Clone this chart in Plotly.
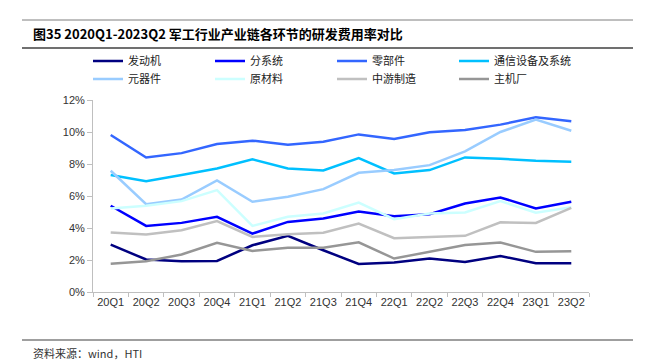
import plotly.graph_objects as go

quarters = ["20Q1","20Q2","20Q3","20Q4","21Q1","21Q2","21Q3","21Q4",
            "22Q1","22Q2","22Q3","22Q4","23Q1","23Q2"]

engine      = [2.96,2.03,1.92,1.94,2.92,3.51,2.61,1.75,1.84,2.09,1.88,2.25,1.80,1.80]   # 发动机
subsystem   = [5.39,4.13,4.32,4.70,3.65,4.38,4.59,5.03,4.74,4.86,5.53,5.91,5.22,5.64]   # 分系统
parts       = [9.81,8.41,8.68,9.25,9.46,9.21,9.39,9.85,9.56,9.98,10.13,10.46,10.92,10.67] # 零部件
comm        = [7.31,6.93,7.31,7.72,8.29,7.72,7.60,8.37,7.41,7.62,8.41,8.33,8.20,8.14]   # 通信设备及系统
components  = [7.58,5.49,5.78,6.97,5.64,5.95,6.43,7.45,7.62,7.93,8.79,10.00,10.77,10.08] # 元器件
materials   = [5.22,5.39,5.68,6.37,4.13,4.70,4.91,5.59,4.55,4.91,4.97,5.68,4.95,5.30]   # 原材料
midstream   = [3.72,3.59,3.86,4.43,3.44,3.61,3.70,4.28,3.36,3.42,3.51,4.36,4.32,5.26]   # 中游制造
oem         = [1.77,1.92,2.34,3.07,2.57,2.76,2.76,3.11,2.09,2.53,2.94,3.09,2.51,2.55]   # 主机厂

series = [
    ("发动机", engine, "#000080", "legend"),
    ("分系统", subsystem, "#0000FF", "legend"),
    ("零部件", parts, "#3366FF", "legend"),
    ("通信设备及系统", comm, "#00C0FF", "legend"),
    ("元器件", components, "#99CCFF", "legend2"),
    ("原材料", materials, "#CCFFFF", "legend2"),
    ("中游制造", midstream, "#C0C0C0", "legend2"),
    ("主机厂", oem, "#969696", "legend2"),
]

fig = go.Figure()
for name, vals, color, lg in series:
    fig.add_trace(go.Scatter(x=quarters, y=vals, name=name, mode="lines",
                             line=dict(color=color, width=2.5), legend=lg))

W, H = 655, 363
L, R, T, B = 93, 589, 100, 292
pw, ph = R - L, B - T
def px(x): return (x - L) / pw
def py(y): return (B - y) / ph

cjk = "Noto Sans CJK SC"
lat = "Liberation Sans"

legend_common = dict(orientation="h", xanchor="left", yanchor="middle",
                     entrywidth=77, entrywidthmode="pixels",
                     font=dict(family=cjk, size=11, color="#222222"),
                     bgcolor="rgba(0,0,0,0)", borderwidth=0, itemwidth=30,
                     tracegroupgap=0)

fig.update_layout(
    width=W, height=H,
    margin=dict(l=L, r=W - R, t=T, b=H - B),
    paper_bgcolor="white", plot_bgcolor="white",
    showlegend=True,
    legend=dict(x=px(88), y=py(61), **legend_common),
    legend2=dict(x=px(88), y=py(79), **legend_common),
    xaxis=dict(type="category", range=[-0.5, len(quarters) - 0.5],
               showline=True, linecolor="#BFBFBF", linewidth=1, tickangle=0,
               ticks="outside", tickson="boundaries", ticklen=4, tickcolor="#BFBFBF",
               showgrid=False, tickfont=dict(family=lat, size=11, color="#333333")),
    yaxis=dict(range=[0, 12], dtick=2, ticksuffix="%", showline=True,
               linecolor="#BFBFBF", linewidth=1, ticks="outside", ticklen=5,
               tickcolor="#BFBFBF", showgrid=False, zeroline=False,
               tickfont=dict(family=lat, size=11, color="#333333")),
)

# header / footer rules
fig.add_shape(type="line", xref="paper", yref="paper", x0=px(22), x1=px(633),
              y0=py(20), y1=py(20), line=dict(color="#7F7F7F", width=1))
fig.add_shape(type="line", xref="paper", yref="paper", x0=px(22), x1=px(633),
              y0=py(48), y1=py(48), line=dict(color="#404040", width=1.5))
fig.add_shape(type="line", xref="paper", yref="paper", x0=px(22), x1=px(633),
              y0=py(340), y1=py(340), line=dict(color="#7F7F7F", width=1.5))

fig.add_annotation(xref="paper", yref="paper", x=px(31), y=py(33),
                   xanchor="left", yanchor="middle", showarrow=False,
                   text="<b>图35 2020Q1-2023Q2 军工行业产业链各环节的研发费用率对比</b>",
                   font=dict(family=cjk, size=13, color="#000000"))
fig.add_annotation(xref="paper", yref="paper", x=px(31), y=py(353),
                   xanchor="left", yanchor="middle", showarrow=False,
                   text="资料来源：wind，HTI",
                   font=dict(family=cjk, size=11, color="#333333"))

fig.write_html("out.html", config={"displayModeBar": False},
               post_script="document.body.style.margin='0';document.body.style.overflow='hidden';")
